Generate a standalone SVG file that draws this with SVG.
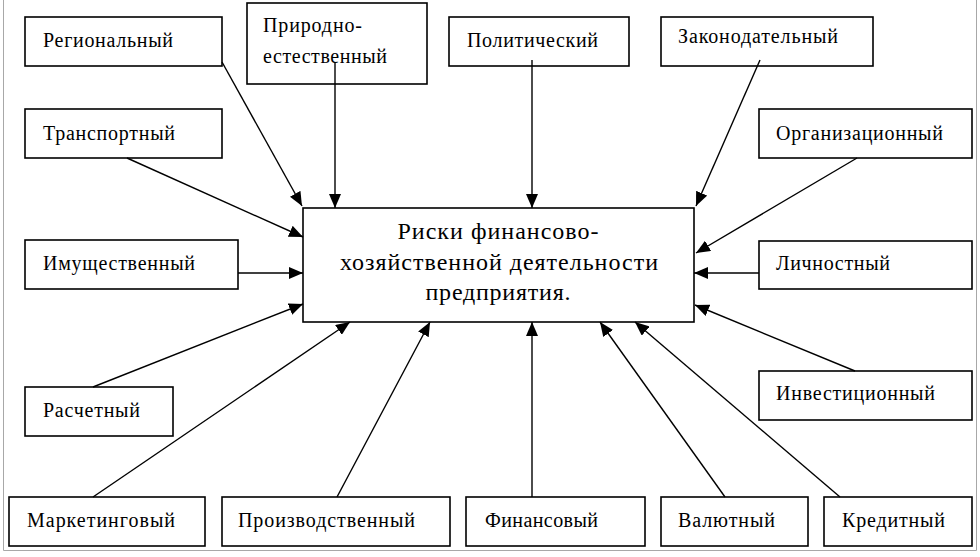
<svg xmlns="http://www.w3.org/2000/svg" width="980" height="557" viewBox="0 0 980 557">
<style>
.box{fill:#fff;stroke:#000;stroke-width:1.6}
.lbl{font-family:"Liberation Serif","Times New Roman",serif;font-size:20px;fill:#000}
.main{font-family:"Liberation Serif","Times New Roman",serif;font-size:24px;fill:#000;text-anchor:middle}
.con line{stroke:#000;stroke-width:1.4;marker-end:url(#ah)}
.frame{stroke:#a8a8a8;stroke-width:1;fill:none}
</style>
<defs>
<marker id="ah" markerUnits="userSpaceOnUse" markerWidth="14" markerHeight="12" refX="14" refY="6" orient="auto">
<path d="M0,0 L14,6 L0,12 z" fill="#000"/>
</marker>
</defs>
<rect width="980" height="557" fill="#fff"/>
<path class="frame" d="M3.5,0 V550.5 H976.5 V0"/>

<g id="n-main"><rect class="box" x="303" y="208" width="391" height="114"/>
<text class="main" x="498" y="239" textLength="201">Риски финансово-</text>
<text class="main" x="499" y="270" textLength="318">хозяйственной деятельности</text>
<text class="main" x="498" y="300" textLength="145">предприятия.</text></g>

<g id="n-regional"><rect class="box" x="25" y="17" width="197" height="49"/><text class="lbl" x="43" y="47" textLength="130">Региональный</text></g>
<g id="n-prirodno"><rect class="box" x="247" y="3" width="180" height="81"/><text class="lbl" x="263" y="32" textLength="99">Природно-</text><text class="lbl" x="263" y="63" textLength="124">естественный</text></g>
<g id="n-polit"><rect class="box" x="449" y="17" width="180" height="49"/><text class="lbl" x="467" y="47" textLength="131">Политический</text></g>
<g id="n-zakon"><rect class="box" x="661" y="17" width="212" height="49"/><text class="lbl" x="678" y="43" textLength="160">Законодательный</text></g>
<g id="n-transp"><rect class="box" x="25" y="109" width="197" height="49"/><text class="lbl" x="43" y="140" textLength="132">Транспортный</text></g>
<g id="n-org"><rect class="box" x="759" y="109" width="213" height="49"/><text class="lbl" x="776" y="140" textLength="167">Организационный</text></g>
<g id="n-imush"><rect class="box" x="25" y="240" width="213" height="49"/><text class="lbl" x="43" y="270" textLength="152">Имущественный</text></g>
<g id="n-lichn"><rect class="box" x="759" y="241" width="213" height="48"/><text class="lbl" x="776" y="270" textLength="114">Личностный</text></g>
<g id="n-invest"><rect class="box" x="759" y="371" width="213" height="49"/><text class="lbl" x="776" y="400" textLength="159">Инвестиционный</text></g>
<g id="n-raschet"><rect class="box" x="25" y="387" width="148" height="49"/><text class="lbl" x="43" y="417" textLength="97">Расчетный</text></g>
<g id="n-market"><rect class="box" x="9" y="497" width="196" height="49"/><text class="lbl" x="27" y="527" textLength="148">Маркетинговый</text></g>
<g id="n-proizv"><rect class="box" x="222" y="497" width="228" height="49"/><text class="lbl" x="238" y="527" textLength="177">Производственный</text></g>
<g id="n-finans"><rect class="box" x="466" y="497" width="179" height="49"/><text class="lbl" x="485" y="527" textLength="113">Финансовый</text></g>
<g id="n-valut"><rect class="box" x="661" y="497" width="147" height="49"/><text class="lbl" x="678" y="527" textLength="97">Валютный</text></g>
<g id="n-kredit"><rect class="box" x="824" y="497" width="148" height="49"/><text class="lbl" x="842" y="527" textLength="103">Кредитный</text></g>

<g id="connectors" class="con">
<line x1="222" y1="62" x2="302" y2="206"/>
<line x1="335" y1="62" x2="335" y2="208"/>
<line x1="532" y1="60" x2="532" y2="208"/>
<line x1="760" y1="60" x2="696" y2="206"/>
<line x1="127" y1="158" x2="303" y2="237"/>
<line x1="857" y1="158" x2="696" y2="253"/>
<line x1="238" y1="273" x2="303" y2="273"/>
<line x1="759" y1="273" x2="694" y2="273"/>
<line x1="855" y1="371" x2="695" y2="305"/>
<line x1="93" y1="387" x2="303" y2="304"/>
<line x1="93" y1="497" x2="350" y2="322"/>
<line x1="337" y1="497" x2="430" y2="322"/>
<line x1="532" y1="497" x2="532" y2="322"/>
<line x1="725" y1="497" x2="600" y2="322"/>
<line x1="840" y1="497" x2="635" y2="322"/>
</g>
</svg>
